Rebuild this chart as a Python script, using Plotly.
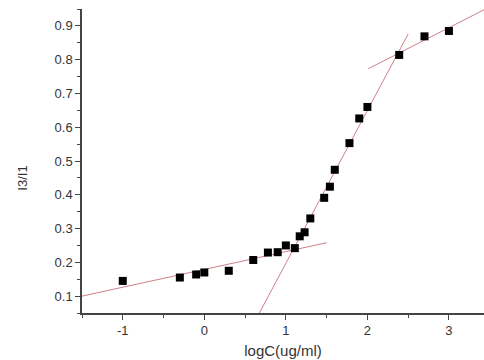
import plotly.graph_objects as go

# Measured I3/I1 ratio versus log concentration
log_c = [-1.0, -0.30, -0.10, 0.0, 0.30, 0.60, 0.78, 0.90, 1.0, 1.11, 1.17,
         1.23, 1.30, 1.47, 1.54, 1.60, 1.78, 1.90, 2.0, 2.39, 2.70, 3.0]
ratio = [0.145, 0.155, 0.164, 0.170, 0.175, 0.207, 0.229, 0.230, 0.250, 0.242,
         0.277, 0.289, 0.330, 0.391, 0.424, 0.474, 0.553, 0.626, 0.660, 0.814,
         0.869, 0.885]

# Linear fits for the three regimes: (x start, x end, slope, intercept)
fit_low = (-1.5, 1.50, 0.0527, 0.179)
fit_mid = (0.675, 2.50, 0.4526, 0.05 - 0.4526 * 0.675)
fit_high = (2.01, 3.5, 0.123, 0.773 - 0.123 * 2.01)

line_color = "#d07f88"
axis_color = "#444444"
text_color = "#333333"

fig = go.Figure()

for x0, x1, m, b in (fit_low, fit_mid, fit_high):
    fig.add_trace(go.Scatter(
        x=[x0, x1], y=[m * x0 + b, m * x1 + b], mode="lines",
        line=dict(color=line_color, width=1), showlegend=False,
        hoverinfo="skip"))

fig.add_trace(go.Scatter(
    x=log_c, y=ratio, mode="markers",
    marker=dict(symbol="square", size=8, color="black"),
    showlegend=False))

fig.update_layout(
    width=484, height=360,
    margin=dict(l=82, r=0, t=9, b=47),
    paper_bgcolor="white", plot_bgcolor="white",
    font=dict(family="Liberation Sans, Arial, sans-serif", size=13,
              color=text_color),
    xaxis=dict(
        range=[-1.5, 3.43], tickmode="array", tickvals=[-1, 0, 1, 2, 3],
        ticktext=["-1", "0", "1", "2", "3"],
        showgrid=False, zeroline=False, showline=True, linecolor=axis_color,
        linewidth=1.5, ticks="outside", ticklen=5, tickcolor=axis_color,
        minor=dict(tickvals=[-1.5, -0.5, 0.5, 1.5, 2.5], ticks="outside",
                   ticklen=3, tickcolor=axis_color),
        title=dict(text="logC(ug/ml)", font=dict(size=15), standoff=8),
    ),
    yaxis=dict(
        range=[0.05, 0.95], tickmode="array",
        tickvals=[0.1, 0.2, 0.3, 0.4, 0.5, 0.6, 0.7, 0.8, 0.9],
        ticktext=["0.1", "0.2", "0.3", "0.4", "0.5", "0.6", "0.7", "0.8", "0.9"],
        showgrid=False, zeroline=False, showline=True, linecolor=axis_color,
        linewidth=1.5, ticks="outside", ticklen=5, tickcolor=axis_color,
        minor=dict(tickvals=[0.05, 0.15, 0.25, 0.35, 0.45, 0.55, 0.65,
                             0.75, 0.85, 0.95],
                   ticks="outside", ticklen=3, tickcolor=axis_color),
    ),
    annotations=[dict(
        text="I3/I1", textangle=-90, xref="paper", yref="paper",
        x=-0.147, y=0.445, showarrow=False, font=dict(size=13),
        xanchor="center", yanchor="middle")],
)

fig.write_html("out.html")
